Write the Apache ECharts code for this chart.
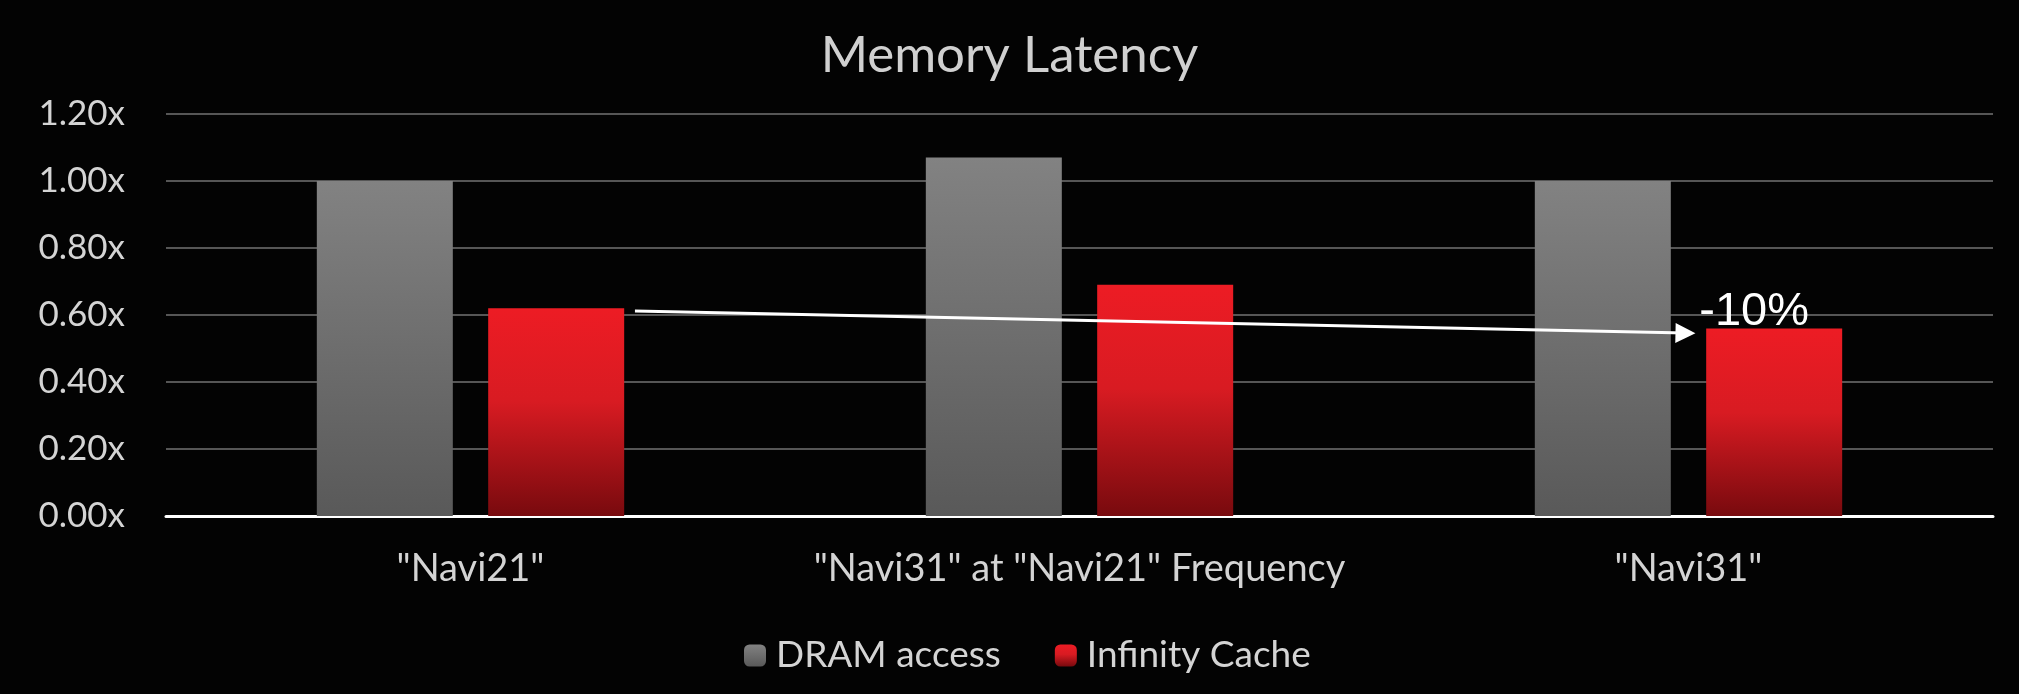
<!DOCTYPE html>
<html>
<head>
<meta charset="utf-8">
<title>Memory Latency</title>
<script src="https://cdn.jsdelivr.net/npm/echarts@6/dist/echarts.min.js"></script>
<style>
  html, body { margin: 0; padding: 0; background: #030303; }
  #chart { width: 2019px; height: 694px; }
</style>
</head>
<body>
<div id="chart"></div>
<script>
// data
var categories = ['"Navi21"', '"Navi31" at "Navi21" Frequency', '"Navi31"'];
var dramAccess = [1.00, 1.07, 1.00];
var infinityCache = [0.62, 0.69, 0.56];
var seriesNames = ['DRAM access', 'Infinity Cache'];
var yMin = 0, yMax = 1.2, yStep = 0.2;
// arrow annotation, in (band position, value) units
var arrowFrom = [0.77, 0.612];
var arrowTo = [2.495, 0.546];

var FONT = 'Lato, "Open Sans", sans-serif';
var TEXT = '#d4d4d4';

function grad(stops) {
  return new echarts.graphic.LinearGradient(0, 0, 0, 1, stops);
}
var grayFill = grad([{ offset: 0, color: '#828282' }, { offset: 1, color: '#595959' }]);
var redFill = grad([
  { offset: 0, color: '#ed1c24' },
  { offset: 0.45, color: '#d81b22' },
  { offset: 1, color: '#780a0e' }
]);

var chartDom = echarts.init(document.getElementById('chart'));

var cacheData = infinityCache.map(function (v, i) {
  var item = { value: v };
  if (i === infinityCache.length - 1) {
    item.label = {
      show: true,
      position: 'top',
      distance: 0,
      offset: [-20, 7],
      color: '#ffffff',
      fontFamily: '"Liberation Sans", Arial, sans-serif',
      fontSize: 47,
      formatter: function (p) {
        return Math.round((p.value / infinityCache[0] - 1) * 100) + '%';
      }
    };
  }
  return item;
});

var option = {
  backgroundColor: '#030303',
  animation: false,
  title: {
    text: 'Memory Latency',
    left: 'center',
    top: 30,
    padding: 0,
    textStyle: { color: '#d0d0d0', fontFamily: FONT, fontSize: 51, fontWeight: 'normal' }
  },
  legend: {
    data: seriesNames,
    bottom: 20,
    left: 744,
    padding: 0,
    itemWidth: 22,
    itemHeight: 22,
    itemGap: 54,
    textStyle: { color: TEXT, fontFamily: FONT, fontSize: 37, padding: [0, 0, 0, 5] }
  },
  grid: { left: 166, right: 26, top: 114, bottom: 178, containLabel: false },
  xAxis: [{
    type: 'category',
    data: categories,
    axisLine: { lineStyle: { color: '#ffffff', width: 3 } },
    axisTick: { show: false },
    axisLabel: { color: TEXT, fontFamily: FONT, fontSize: 38, margin: 34, interval: 0 }
  }, {
    type: 'value',
    min: 0,
    max: categories.length,
    show: false
  }],
  yAxis: {
    type: 'value',
    min: yMin,
    max: yMax,
    interval: yStep,
    axisLine: { show: false },
    axisTick: { show: false },
    splitLine: { lineStyle: { color: '#565656', width: 2 } },
    axisLabel: {
      color: TEXT, fontFamily: FONT, fontSize: 35, margin: 41,
      formatter: function (v) { return v.toFixed(2) + 'x'; }
    }
  },
  series: [{
    name: seriesNames[0],
    type: 'bar',
    data: dramAccess,
    barWidth: 136,
    barGap: '26%',
    itemStyle: { color: grayFill }
  }, {
    name: seriesNames[1],
    type: 'bar',
    data: cacheData,
    barWidth: 136,
    barGap: '26%',
    itemStyle: { color: redFill }
  }, {
    name: 'arrow',
    type: 'line',
    xAxisIndex: 1,
    data: [],
    silent: true,
    markLine: {
      silent: true,
      symbol: ['none', 'triangle'],
      symbolSize: [20, 20],
      label: { show: false },
      lineStyle: { color: '#ffffff', width: 3, type: 'solid' },
      data: [[{ coord: arrowFrom }, { coord: arrowTo }]]
    }
  }]
};

chartDom.setOption(option);
</script>
</body>
</html>
